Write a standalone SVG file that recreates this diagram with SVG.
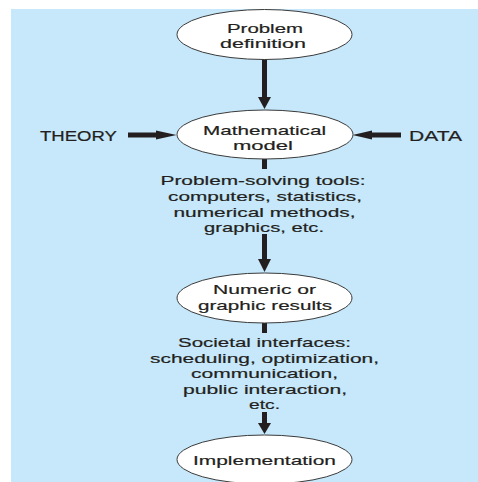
<svg xmlns="http://www.w3.org/2000/svg" width="478" height="482" viewBox="0 0 478 482">
  <defs>
    <style>
      .node { fill: #ffffff; stroke: #3a3a3a; stroke-width: 1; }
      .lbl { font-family: "Liberation Sans", Arial, sans-serif; font-size: 13.5px; fill: #231f20; stroke: #231f20; stroke-width: 0.2; text-anchor: middle; }
      .side { font-family: "Liberation Sans", Arial, sans-serif; font-size: 14px; fill: #231f20; stroke: #231f20; stroke-width: 0.2; }
      .shaft { stroke: #231f20; stroke-width: 5; fill: none; }
      .head { fill: #231f20; }
    </style>
  </defs>

  <!-- backdrop -->
  <rect x="11" y="9" width="467" height="473" fill="#c6e8fa"/>

  <!-- connectors -->
  <g id="connectors">
    <!-- problem definition -> mathematical model -->
    <line class="shaft" x1="264.5" y1="59" x2="264.5" y2="98"/>
    <polygon class="head" points="258,97 271,97 264.5,109"/>
    <!-- THEORY -> model -->
    <line class="shaft" x1="128" y1="135" x2="158" y2="135"/>
    <polygon class="head" points="156,130.5 156,139.5 176.5,135"/>
    <!-- DATA -> model -->
    <line class="shaft" x1="401" y1="135" x2="370" y2="135"/>
    <polygon class="head" points="372,130.5 372,139.5 352.5,135"/>
    <!-- model stub into tools text -->
    <line class="shaft" x1="264.5" y1="159" x2="264.5" y2="169" stroke-width="6"/>
    <!-- tools -> numeric results -->
    <line class="shaft" x1="264.5" y1="234" x2="264.5" y2="260"/>
    <polygon class="head" points="258,259 271,259 264.5,272"/>
    <!-- results stub into interfaces text -->
    <line class="shaft" x1="264.5" y1="322" x2="264.5" y2="333" stroke-width="6"/>
    <!-- interfaces -> implementation -->
    <line class="shaft" x1="264.5" y1="412" x2="264.5" y2="424"/>
    <polygon class="head" points="258,423 271,423 264.5,434"/>
  </g>

  <g id="problem-definition">
    <ellipse class="node" cx="264.5" cy="34.5" rx="87.5" ry="25"/>
    <text class="lbl" x="265" y="33" textLength="76" lengthAdjust="spacingAndGlyphs">Problem</text>
    <text class="lbl" x="263" y="48" textLength="86" lengthAdjust="spacingAndGlyphs">definition</text>
  </g>

  <g id="mathematical-model">
    <ellipse class="node" cx="265" cy="134.5" rx="88" ry="24.5"/>
    <text class="lbl" x="264.5" y="135" textLength="123" lengthAdjust="spacingAndGlyphs">Mathematical</text>
    <text class="lbl" x="263" y="150" textLength="60" lengthAdjust="spacingAndGlyphs">model</text>
  </g>

  <g id="theory">
    <text class="side" x="40" y="141" textLength="77" lengthAdjust="spacingAndGlyphs">THEORY</text>
  </g>

  <g id="data">
    <text class="side" x="409" y="141" textLength="53" lengthAdjust="spacingAndGlyphs">DATA</text>
  </g>

  <g id="problem-solving-tools">
    <text class="lbl" x="263" y="185" textLength="205" lengthAdjust="spacingAndGlyphs">Problem-solving tools:</text>
    <text class="lbl" x="265" y="200.5" textLength="194" lengthAdjust="spacingAndGlyphs">computers, statistics,</text>
    <text class="lbl" x="264.5" y="216.5" textLength="182" lengthAdjust="spacingAndGlyphs">numerical methods,</text>
    <text class="lbl" x="264" y="232" textLength="120" lengthAdjust="spacingAndGlyphs">graphics, etc.</text>
  </g>

  <g id="numeric-results">
    <ellipse class="node" cx="264.5" cy="298" rx="87.5" ry="25"/>
    <text class="lbl" x="264.5" y="294" textLength="103" lengthAdjust="spacingAndGlyphs">Numeric or</text>
    <text class="lbl" x="265" y="309.5" textLength="134" lengthAdjust="spacingAndGlyphs">graphic results</text>
  </g>

  <g id="societal-interfaces">
    <text class="lbl" x="264.5" y="347" textLength="173" lengthAdjust="spacingAndGlyphs">Societal interfaces:</text>
    <text class="lbl" x="264.5" y="362.5" textLength="229" lengthAdjust="spacingAndGlyphs">scheduling, optimization,</text>
    <text class="lbl" x="264.5" y="378" textLength="147" lengthAdjust="spacingAndGlyphs">communication,</text>
    <text class="lbl" x="265" y="393.5" textLength="164" lengthAdjust="spacingAndGlyphs">public interaction,</text>
    <text class="lbl" x="264.5" y="409" textLength="31" lengthAdjust="spacingAndGlyphs">etc.</text>
  </g>

  <g id="implementation">
    <ellipse class="node" cx="264.5" cy="459.5" rx="87.5" ry="24.5"/>
    <text class="lbl" x="264.5" y="465" textLength="143" lengthAdjust="spacingAndGlyphs">Implementation</text>
  </g>
</svg>
